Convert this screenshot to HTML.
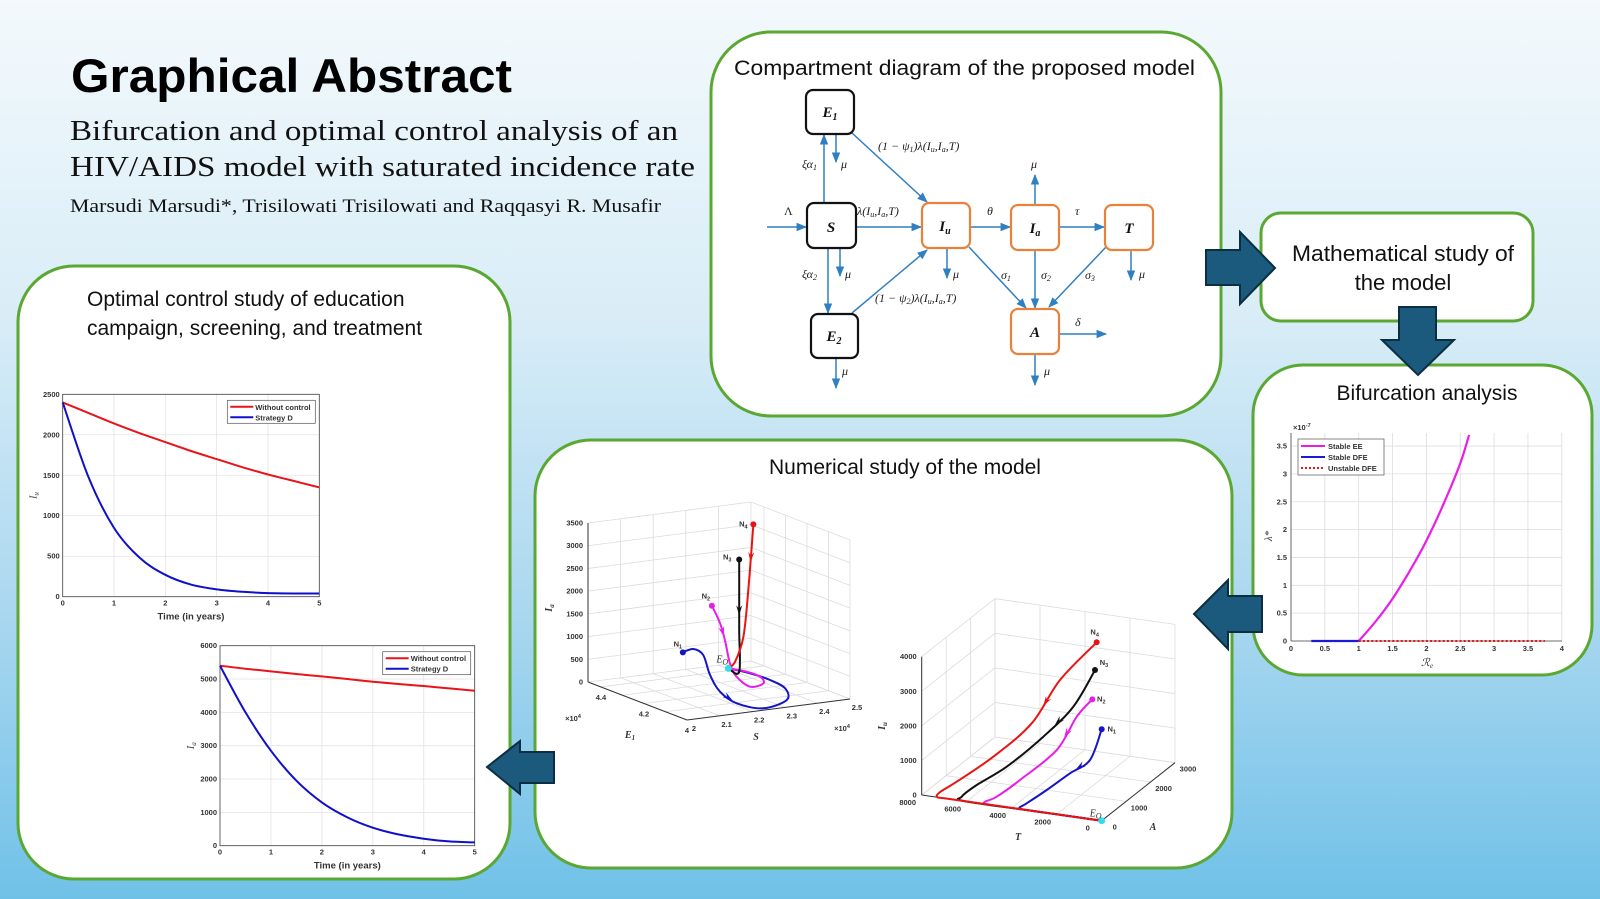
<!DOCTYPE html>
<html><head><meta charset="utf-8"><style>
html,body{margin:0;padding:0;width:1600px;height:899px;overflow:hidden}
svg{display:block}
.sans{font-family:"Liberation Sans",sans-serif}
.serif{font-family:"Liberation Serif",serif}
.tk{font-family:"Liberation Sans",sans-serif;font-size:7.5px;font-weight:bold;fill:#333}
.mt{font-family:"Liberation Serif",serif;font-style:italic;font-size:12px;fill:#222}
</style></head><body>
<svg id="root" width="1600" height="899" viewBox="0 0 1600 899" xmlns="http://www.w3.org/2000/svg">
<defs>
<linearGradient id="bg" x1="0" y1="0" x2="0" y2="1">
<stop offset="0" stop-color="#f3f9fc"/><stop offset="0.35" stop-color="#d9edf7"/><stop offset="0.7" stop-color="#a7d6ef"/><stop offset="1" stop-color="#70c1e8"/>
</linearGradient>
<marker id="ah" viewBox="0 0 10 10" refX="9" refY="5" markerWidth="7" markerHeight="7" orient="auto"><path d="M0,1 L10,5 L0,9 z" fill="#2f7fc1"/></marker>
</defs>
<rect x="0" y="0" width="1600" height="899" fill="url(#bg)"/>

<g>
<text x="71" y="92" class="sans" font-size="47" font-weight="bold" textLength="441" lengthAdjust="spacingAndGlyphs">Graphical Abstract</text>
<text x="70" y="140" class="serif" font-size="29" textLength="608" lengthAdjust="spacingAndGlyphs" fill="#111">Bifurcation and optimal control analysis of an</text>
<text x="70" y="176" class="serif" font-size="29" textLength="625" lengthAdjust="spacingAndGlyphs" fill="#111">HIV/AIDS model with saturated incidence rate</text>
<text x="70" y="212" class="serif" font-size="19" textLength="591" lengthAdjust="spacingAndGlyphs" fill="#111">Marsudi Marsudi*, Trisilowati Trisilowati and Raqqasyi R. Musafir</text>
</g>

<g fill="#fff" stroke="#5aa832" stroke-width="3">
<rect x="18" y="266" width="492" height="613" rx="56"/>
<rect x="711" y="32" width="510" height="384" rx="60"/>
<rect x="1261" y="213" width="272" height="108" rx="20"/>
<rect x="1253" y="365" width="339" height="310" rx="50"/>
<rect x="535" y="440" width="697" height="428" rx="56"/>
</g>

<g fill="#1b5a7c" stroke="#0c2e42" stroke-width="2">
<polygon points="1206,250 1240,250 1240,232 1275,268 1240,304 1240,285 1206,285"/>
<polygon points="1399,307 1436,307 1436,340 1454,340 1418,375 1382,340 1399,340"/>
<polygon points="1194,614 1228,580 1228,596 1262,596 1262,632 1228,632 1228,649"/>
<polygon points="487,767 520,741 520,752 554,752 554,783 520,783 520,794"/>
</g>

<g class="sans" fill="#111" font-size="21">
<text x="734" y="75" textLength="461" lengthAdjust="spacingAndGlyphs">Compartment diagram of the proposed model</text>
<text x="1403" y="261" text-anchor="middle" font-size="22" textLength="222" lengthAdjust="spacingAndGlyphs">Mathematical study of</text>
<text x="1403" y="290" text-anchor="middle" font-size="22">the model</text>
<text x="1427" y="400" text-anchor="middle">Bifurcation analysis</text>
<text x="905" y="474" text-anchor="middle">Numerical study of the model</text>
<text x="87" y="306">Optimal control study of education</text>
<text x="87" y="335">campaign, screening, and treatment</text>
</g>

<g>
<g stroke="#2f7fc1" stroke-width="1.5" fill="none" marker-end="url(#ah)">
<line x1="767" y1="227" x2="806" y2="227"/>
<line x1="856" y1="227" x2="921" y2="227"/>
<line x1="824" y1="203" x2="824" y2="135"/>
<line x1="836" y1="134" x2="836" y2="162"/>
<line x1="852" y1="133" x2="927" y2="202"/>
<line x1="828" y1="248" x2="828" y2="313"/>
<line x1="840" y1="248" x2="840" y2="276"/>
<line x1="852" y1="313" x2="927" y2="250"/>
<line x1="836" y1="358" x2="836" y2="388"/>
<line x1="947" y1="248" x2="947" y2="278"/>
<line x1="970" y1="227" x2="1010" y2="227"/>
<line x1="969" y1="247" x2="1026" y2="308"/>
<line x1="1035" y1="205" x2="1035" y2="175"/>
<line x1="1059" y1="227" x2="1104" y2="227"/>
<line x1="1035" y1="250" x2="1035" y2="308"/>
<line x1="1106" y1="247" x2="1049" y2="307"/>
<line x1="1131" y1="250" x2="1131" y2="280"/>
<line x1="1059" y1="334" x2="1106" y2="334"/>
<line x1="1035" y1="354" x2="1035" y2="385"/>
</g>
<g fill="#fff" stroke-width="2.2">
<rect x="806" y="90" width="48" height="44" rx="7" stroke="#111"/>
<rect x="807" y="203" width="49" height="45" rx="7" stroke="#111"/>
<rect x="811" y="314" width="47" height="44" rx="7" stroke="#111"/>
<rect x="922" y="203" width="48" height="45" rx="7" stroke="#e8823a"/>
<rect x="1011" y="205" width="48" height="45" rx="7" stroke="#e8823a"/>
<rect x="1105" y="205" width="48" height="45" rx="7" stroke="#e8823a"/>
<rect x="1011" y="309" width="48" height="45" rx="7" stroke="#e8823a"/>
</g>
<g class="serif" font-weight="bold" font-style="italic" font-size="15" fill="#111" text-anchor="middle">
<text x="830" y="117">E<tspan font-size="10" dy="3">1</tspan></text>
<text x="831" y="232">S</text>
<text x="834" y="341">E<tspan font-size="10" dy="3">2</tspan></text>
<text x="945" y="231">I<tspan font-size="10" dy="3">u</tspan></text>
<text x="1035" y="233">I<tspan font-size="10" dy="3">a</tspan></text>
<text x="1129" y="233">T</text>
<text x="1035" y="337">A</text>
</g>
<g class="mt">
<text x="784" y="215" font-style="normal">Λ</text>
<text x="857" y="215">λ(I<tspan font-size="8" dy="2">u</tspan><tspan dy="-2">,I</tspan><tspan font-size="8" dy="2">a</tspan><tspan dy="-2">,T)</tspan></text>
<text x="878" y="150">(1 − ψ<tspan font-size="8" dy="2">1</tspan><tspan dy="-2">)λ(I</tspan><tspan font-size="8" dy="2">u</tspan><tspan dy="-2">,I</tspan><tspan font-size="8" dy="2">a</tspan><tspan dy="-2">,T)</tspan></text>
<text x="875" y="302">(1 − ψ<tspan font-size="8" dy="2">2</tspan><tspan dy="-2">)λ(I</tspan><tspan font-size="8" dy="2">u</tspan><tspan dy="-2">,I</tspan><tspan font-size="8" dy="2">a</tspan><tspan dy="-2">,T)</tspan></text>
<text x="802" y="168">ξα<tspan font-size="8" dy="2">1</tspan></text>
<text x="802" y="278">ξα<tspan font-size="8" dy="2">2</tspan></text>
<text x="841" y="168">μ</text><text x="845" y="278">μ</text><text x="842" y="375">μ</text>
<text x="953" y="278">μ</text><text x="1031" y="168">μ</text><text x="1139" y="278">μ</text><text x="1044" y="375">μ</text>
<text x="987" y="215">θ</text><text x="1075" y="215">τ</text><text x="1075" y="326">δ</text>
<text x="1001" y="279">σ<tspan font-size="8" dy="2">1</tspan></text>
<text x="1041" y="279">σ<tspan font-size="8" dy="2">2</tspan></text>
<text x="1085" y="279">σ<tspan font-size="8" dy="2">3</tspan></text>
</g>
</g>

<g id="charts"></g>
</svg>

<script>
// ---------- data ----------
const years = [0,0.5,1,1.5,2,2.5,3,3.5,4,4.5,5];
const iuWithout = [2400,2270,2140,2020,1910,1800,1700,1600,1510,1430,1350];
const iuStrategyD = [2400,1480,850,480,270,150,90,60,45,40,40];
const iaWithout = [5400,5310,5230,5150,5080,5000,4920,4850,4790,4720,4650];
const iaStrategyD = [5400,4000,2850,1950,1300,850,540,340,210,130,100];
const iuTicks = [0,500,1000,1500,2000,2500];
const iaTicks = [0,1000,2000,3000,4000,5000,6000];
const yearTicks = [0,1,2,3,4,5];

const reValues = [1,1.25,1.5,1.75,2,2.25,2.5,2.63];
const lambdaStar = [0,0.35,0.76,1.25,1.8,2.45,3.19,3.7];
const dfeStable = [0.3,1];
const dfeUnstable = [1,3.75];
const reTicks = [0,0.5,1,1.5,2,2.5,3,3.5];
const lamTicks = [0,0.5,1,1.5,2,2.5,3,3.5];

const eqPoint1 = [2.404,4.42,0];
const trajN1 = [[2.205,4.330,700],[2.244,4.340,720],[2.263,4.323,600],[2.241,4.258,300],[2.218,4.177,100],[2.214,4.093,0],[2.245,4.017,0],[2.349,4.065,0],[2.415,4.173,0],[2.43,4.265,0],[2.424,4.35,0],[2.404,4.42,0]];
const trajN2 = [[2.279,4.307,1700],[2.301,4.302,1300],[2.321,4.31,900],[2.343,4.32,350],[2.346,4.294,100],[2.344,4.228,0],[2.395,4.243,0],[2.427,4.307,0],[2.426,4.368,0],[2.404,4.42,0]];
const trajN3 = [[2.409,4.377,2470],[2.409,4.377,1800],[2.409,4.377,900],[2.409,4.377,0],[2.404,4.42,0]];
const trajN4 = [[2.399,4.296,3400],[2.375,4.283,2000],[2.383,4.318,900],[2.378,4.349,300],[2.404,4.42,0]];
const sTicks = [2,2.1,2.2,2.3,2.4,2.5];
const e1Ticks = [4,4.2,4.4];
const iaTicks3d = [0,500,1000,1500,2000,2500,3000,3500];

const eqPoint2 = [0,0,0];
const trjN1 = [[1389,1279,1800],[1850,1224,900],[2464,971,600],[3122,624,250],[3570,219,50],[3700,40,0],[3300,0,0],[1600,0,0],[0,0,0]];
const trjN2 = [[1686,1168,2700],[2268,1066,2200],[2917,844,1300],[4190,514,500],[4962,272,80],[5300,60,0],[4800,0,0],[2400,0,0],[0,0,0]];
const trjN3 = [[1827,1408,3400],[2216,878,2600],[3236,590,1800],[4666,409,900],[5829,252,350],[6350,120,40],[6100,0,0],[3000,0,0],[0,0,0]];
const trjN4 = [[2592,2181,3700],[3330,1360,3000],[3977,798,2000],[5152,308,1200],[6494,44,500],[7200,0,150],[7300,0,0],[6800,0,0],[3500,0,0],[0,0,0]];
const tTicks = [0,2000,4000,6000,8000];
const aTicks = [0,1000,2000,3000];
const iuTicks3d = [0,1000,2000,3000,4000];

// ---------- helpers ----------
const NS = 'http://www.w3.org/2000/svg';
const root = document.getElementById('charts');
function mk(tag, attrs, parent) {
  const e = document.createElementNS(NS, tag);
  for (const k in attrs) e.setAttribute(k, attrs[k]);
  (parent || root).appendChild(e);
  return e;
}
function smooth(pts) {
  if (pts.length < 3) return 'M' + pts.map(p => p[0].toFixed(1) + ',' + p[1].toFixed(1)).join(' L');
  let d = 'M' + pts[0][0].toFixed(1) + ',' + pts[0][1].toFixed(1);
  for (let i = 0; i < pts.length - 1; i++) {
    const p0 = pts[Math.max(0, i - 1)], p1 = pts[i], p2 = pts[i + 1], p3 = pts[Math.min(pts.length - 1, i + 2)];
    const c1 = [p1[0] + (p2[0] - p0[0]) / 6, p1[1] + (p2[1] - p0[1]) / 6];
    const c2 = [p2[0] - (p3[0] - p1[0]) / 6, p2[1] - (p3[1] - p1[1]) / 6];
    d += ' C' + c1[0].toFixed(1) + ',' + c1[1].toFixed(1) + ' ' + c2[0].toFixed(1) + ',' + c2[1].toFixed(1) + ' ' + p2[0].toFixed(1) + ',' + p2[1].toFixed(1);
  }
  return d;
}
function txt(parent, x, y, s, cls, anchor) {
  const t = mk('text', {x: x, y: y, class: cls || 'tk', 'text-anchor': anchor || 'middle'}, parent);
  t.textContent = s;
  return t;
}
function arrowHead(parent, a, b, color) {
  const dx = b[0] - a[0], dy = b[1] - a[1], L = Math.hypot(dx, dy) || 1;
  const ux = dx / L, uy = dy / L, s = 5;
  const tip = [(a[0] + b[0]) / 2 + ux * s, (a[1] + b[1]) / 2 + uy * s];
  const p = mk('polygon', {points: [tip, [tip[0] - ux * 2 * s - uy * s * 0.6, tip[1] - uy * 2 * s + ux * s * 0.6], [tip[0] - ux * 1.3 * s, tip[1] - uy * 1.3 * s], [tip[0] - ux * 2 * s + uy * s * 0.6, tip[1] - uy * 2 * s - ux * s * 0.6]].map(q => q.join(',')).join(' '), fill: color}, parent);
  return p;
}

function lineChart(name, box, xs, s1, s2, yTicks, ymax, ylab) {
  const g = mk('g', {});
  
  
  const X = v => box.x0 + (v / 5) * (box.x1 - box.x0);
  const Y = v => box.y1 - (v / ymax) * (box.y1 - box.y0);
  mk('rect', {x: box.x0, y: box.y0, width: box.x1 - box.x0, height: box.y1 - box.y0, fill: '#fff'}, g);
  for (const t of yearTicks) {
    const l = mk('line', {x1: X(t), x2: X(t), y1: box.y0, y2: box.y1, stroke: '#e3e3e3', 'stroke-width': 0.8}, g);
    
    
    const tl = txt(g, X(t), box.y1 + 9, String(t));
    
    
  }
  for (const t of yTicks) {
    const l = mk('line', {x1: box.x0, x2: box.x1, y1: Y(t), y2: Y(t), stroke: '#e3e3e3', 'stroke-width': 0.8}, g);
    
    
    const tl = txt(g, box.x0 - 3, Y(t) + 2.5, String(t), 'tk', 'end');
    
    
  }
  mk('rect', {x: box.x0, y: box.y0, width: box.x1 - box.x0, height: box.y1 - box.y0, fill: 'none', stroke: '#444', 'stroke-width': 0.8}, g);
  const r = mk('path', {d: smooth(xs.map((v, i) => [X(v), Y(s1[i])])), fill: 'none', stroke: '#e8141a', 'stroke-width': 2}, g);
  
  
  const b = mk('path', {d: smooth(xs.map((v, i) => [X(v), Y(s2[i])])), fill: 'none', stroke: '#1010c8', 'stroke-width': 2}, g);
  
  
  const lg = mk('g', {}, g);
  
  
  const lw = 88, lx = box.x1 - lw - 4, ly = box.y0 + 6;
  mk('rect', {x: lx, y: ly, width: lw, height: 23, fill: '#fff', stroke: '#555', 'stroke-width': 0.7}, lg);
  mk('line', {x1: lx + 3, x2: lx + 26, y1: ly + 6.5, y2: ly + 6.5, stroke: '#e8141a', 'stroke-width': 2}, lg);
  mk('line', {x1: lx + 3, x2: lx + 26, y1: ly + 17, y2: ly + 17, stroke: '#1010c8', 'stroke-width': 2}, lg);
  txt(lg, lx + 28, ly + 9.5, 'Without control', 'tk', 'start');
  txt(lg, lx + 28, ly + 20, 'Strategy D', 'tk', 'start');
  const xl = txt(g, (box.x0 + box.x1) / 2, box.y1 + 23, 'Time (in years)', 'sans', 'middle');
  xl.setAttribute('font-size', '9.5');
  xl.setAttribute('font-weight', 'bold');
  xl.setAttribute('fill', '#333');
  
  
  const yl = mk('text', {x: 0, y: 0, class: 'serif', 'font-size': 10, 'font-style': 'italic', fill: '#333', transform: 'translate(' + (box.x0 - 26) + ',' + ((box.y0 + box.y1) / 2) + ') rotate(-90)', 'text-anchor': 'middle'}, g);
  yl.textContent = 'I';
  const sub = mk('tspan', {'font-size': 7, dy: 2}, yl);
  sub.textContent = ylab;
  
  
}
lineChart('iu-control-chart', {x0: 62.7, x1: 319.3, y0: 394.3, y1: 596.7}, years, iuWithout, iuStrategyD, iuTicks, 2500, 'u');
lineChart('ia-control-chart', {x0: 220, x1: 474.7, y0: 645.7, y1: 845.7}, years, iaWithout, iaStrategyD, iaTicks, 6000, 'a');

(function () {
  const g = mk('g', {});
  
  
  const x0 = 1291, y0 = 641, px = 67.7, py = 55.7, xr = 1562, yt = 433;
  const X = v => x0 + v * px, Y = v => y0 - v * py;
  for (const t of reTicks) {
    mk('line', {x1: X(t), x2: X(t), y1: yt, y2: y0, stroke: '#ddd', 'stroke-width': 0.8}, g);
    const tl = txt(g, X(t), y0 + 10, String(t));
    
    
  }
  mk('line', {x1: X(4), x2: X(4), y1: yt, y2: y0, stroke: '#ddd', 'stroke-width': 0.8}, g);
  txt(g, X(4), y0 + 10, '4');
  for (const t of lamTicks) {
    mk('line', {x1: x0, x2: xr, y1: Y(t), y2: Y(t), stroke: '#ddd', 'stroke-width': 0.8}, g);
    const tl = txt(g, x0 - 4, Y(t) + 2.5, String(t), 'tk', 'end');
    
    
  }
  mk('line', {x1: x0, x2: x0, y1: yt, y2: y0, stroke: '#444', 'stroke-width': 0.8}, g);
  mk('line', {x1: x0, x2: xr, y1: y0, y2: y0, stroke: '#444', 'stroke-width': 0.8}, g);
  const ee = mk('path', {d: smooth(reValues.map((v, i) => [X(v), Y(lambdaStar[i])])), fill: 'none', stroke: '#e81ee8', 'stroke-width': 2.2}, g);
  
  
  const sd = mk('line', {x1: X(dfeStable[0]), x2: X(dfeStable[1]), y1: Y(0), y2: Y(0), stroke: '#1a1ad8', 'stroke-width': 2.2}, g);
  
  
  const ud = mk('line', {x1: X(dfeUnstable[0]), x2: X(dfeUnstable[1]), y1: Y(0), y2: Y(0), stroke: '#e81414', 'stroke-width': 2, 'stroke-dasharray': '2,2.2'}, g);
  
  
  const lg = mk('g', {}, g);
  
  
  mk('rect', {x: 1298, y: 439, width: 86, height: 36, fill: '#fff', stroke: '#555', 'stroke-width': 0.7}, lg);
  mk('line', {x1: 1301, x2: 1325, y1: 446, y2: 446, stroke: '#e81ee8', 'stroke-width': 2}, lg);
  mk('line', {x1: 1301, x2: 1325, y1: 457, y2: 457, stroke: '#1a1ad8', 'stroke-width': 2}, lg);
  mk('line', {x1: 1301, x2: 1325, y1: 468, y2: 468, stroke: '#e81414', 'stroke-width': 2, 'stroke-dasharray': '2,2'}, lg);
  txt(lg, 1328, 449, 'Stable EE', 'tk', 'start');
  txt(lg, 1328, 460, 'Stable DFE', 'tk', 'start');
  txt(lg, 1328, 471, 'Unstable DFE', 'tk', 'start');
  const ex = txt(g, 1293, 430, '×10', 'tk', 'start');
  ex.setAttribute('font-weight', 'normal');
  const es = mk('tspan', {dy: -3, 'font-size': 5.5}, ex);
  es.textContent = '-7';
  const yl = mk('text', {x: 0, y: 0, class: 'serif', 'font-size': 11, 'font-style': 'italic', fill: '#333', transform: 'translate(1272,536) rotate(-90)', 'text-anchor': 'middle'}, g);
  yl.textContent = 'λ*';
  
  
  const xl = mk('text', {x: 1427, y: 666, class: 'serif', 'font-size': 11, 'font-style': 'italic', fill: '#333', 'text-anchor': 'middle'}, g);
  xl.textContent = 'ℛ';
  const xs = mk('tspan', {'font-size': 7, dy: 2}, xl);
  xs.textContent = 'e';
  
  
})();

function plot3d(cfg) {
  const g = mk('g', {});
  
  
  const P = cfg.proj, ax = cfg;
  const grid = (a, b) => mk('line', {x1: a[0], y1: a[1], x2: b[0], y2: b[1], stroke: '#dcdcdc', 'stroke-width': 0.8}, g);
  for (const z of cfg.zTicks) {
    grid(P(ax.uMin, ax.vFar, z), P(ax.uFar, ax.vFar, z));
    grid(P(ax.uFar, ax.vFar, z), P(ax.uFar, ax.vNear, z));
  }
  for (const u of cfg.uGrid) {
    grid(P(u, ax.vNear, 0), P(u, ax.vFar, 0));
    grid(P(u, ax.vFar, 0), P(u, ax.vFar, ax.zMax));
  }
  for (const v of cfg.vGrid) {
    grid(P(ax.uMin, v, 0), P(ax.uFar, v, 0));
    grid(P(ax.uFar, v, 0), P(ax.uFar, v, ax.zMax));
  }
  const axl = (a, b) => mk('line', {x1: a[0], y1: a[1], x2: b[0], y2: b[1], stroke: '#333', 'stroke-width': 1}, g);
  axl(P(ax.uMin, ax.vFar, 0), P(ax.uMin, ax.vFar, ax.zMax));
  axl(P(ax.uMin, ax.vFar, 0), P(ax.uMin, ax.vNear, 0));
  axl(P(ax.uMin, ax.vNear, 0), P(ax.uFar, ax.vNear, 0));
  for (const z of cfg.zTicks) {
    const q = P(ax.uMin, ax.vFar, z);
    const t = txt(g, q[0] - 5, q[1] + 2.5, String(z), 'tk', 'end');
    
    
  }
  for (const u of cfg.uTicks) {
    const q = P(u, ax.vNear, 0);
    const t = txt(g, q[0] + cfg.uOff[0], q[1] + cfg.uOff[1], String(u));
    
    
  }
  for (const v of cfg.vTicks) {
    const q = P(ax.uMin, v, 0);
    const t = txt(g, q[0] + cfg.vOff[0], q[1] + cfg.vOff[1], String(v));
    
    
  }
  for (const tr of cfg.trajs) {
    const pts = tr.data.map(p => P(p[0], p[1], p[2]));
    const path = mk('path', {d: smooth(pts), fill: 'none', stroke: tr.color, 'stroke-width': 2}, g);
    
    
    const ai = tr.arrowAt;
    arrowHead(g, pts[ai], pts[ai + 1], tr.color);
    const dot = mk('circle', {cx: pts[0][0], cy: pts[0][1], r: 3, fill: tr.color}, g);
    
    
    const lt = txt(g, pts[0][0] + tr.lab[0], pts[0][1] + tr.lab[1], 'N', 'tk', 'middle');
    lt.setAttribute('fill', tr.color);
    lt.setAttribute('font-size', '8');
    const ls = mk('tspan', {'font-size': 5.5, dy: 2}, lt);
    ls.textContent = tr.label.slice(1);
    
    
  }
  const e = P(cfg.eq[0], cfg.eq[1], cfg.eq[2]);
  const ec = mk('circle', {cx: e[0], cy: e[1], r: 3.5, fill: '#33dde8'}, g);
  
  
  const el = mk('text', {x: e[0] + cfg.eqLab[0], y: e[1] + cfg.eqLab[1], class: 'serif', 'font-size': 10, 'font-style': 'italic', fill: '#333'}, g);
  el.textContent = 'E';
  const es = mk('tspan', {'font-size': 8, dy: 2}, el);
  es.textContent = 'O';
  
  
  return g;
}

const proj1 = (S, E, Z) => [687 + (S - 2) / 0.5 * 163 - (E - 4) / 0.46 * 99, 720 - (S - 2) / 0.5 * 21 - (E - 4) / 0.46 * 38 - Z / 3500 * 159];
plot3d({
  name: 'phase-plot-s-e1-ia', proj: proj1, uMin: 2, uFar: 2.5, vNear: 4, vFar: 4.46, zMax: 3500,
  zTicks: iaTicks3d, uGrid: sTicks, vGrid: [4, 4.1, 4.2, 4.3, 4.4], uTicks: sTicks, vTicks: e1Ticks,
  uOff: [7, 11], vOff: [0, 13],
  eq: eqPoint1, eqLab: [-12, -6],
  trajs: [
    {data: trajN1, color: '#1414c8', label: 'N1', arrowAt: 4, lab: [-5, -6]},
    {data: trajN2, color: '#e81ee8', label: 'N2', arrowAt: 1, lab: [-6, -7]},
    {data: trajN3, color: '#111', label: 'N3', arrowAt: 1, lab: [-12, 0]},
    {data: trajN4, color: '#e81414', label: 'N4', arrowAt: 0, lab: [-10, 2]}
  ]
});
const proj2 = (T, A, Z) => [1101.7 - T / 8000 * 180 + A / 3000 * 73.3, 820.7 - T / 8000 * 25.7 - A / 3000 * 58 - Z / 4000 * 138.3];
plot3d({
  name: 'phase-plot-t-a-iu', proj: (a, t, z) => proj2(t, a, z), uMin: 0, uFar: 3000, vNear: 0, vFar: 8000, zMax: 4000,
  zTicks: iuTicks3d, uGrid: aTicks, vGrid: tTicks, uTicks: aTicks, vTicks: tTicks,
  uOff: [13, 9], vOff: [-14, 10],
  eq: [eqPoint2[1], eqPoint2[0], eqPoint2[2]], eqLab: [-12, -4],
  trajs: [
    {data: trjN1.map(p => [p[1], p[0], p[2]]), color: '#1414c8', label: 'N1', arrowAt: 1, lab: [10, 2]},
    {data: trjN2.map(p => [p[1], p[0], p[2]]), color: '#e81ee8', label: 'N2', arrowAt: 1, lab: [9, 2]},
    {data: trjN3.map(p => [p[1], p[0], p[2]]), color: '#111', label: 'N3', arrowAt: 1, lab: [9, -5]},
    {data: trjN4.map(p => [p[1], p[0], p[2]]), color: '#e81414', label: 'N4', arrowAt: 1, lab: [-2, -8]}
  ]
});

function axTitle(x, y, main, sub, rot, name) {
  const t = mk('text', {x: 0, y: 0, class: 'serif', 'font-size': 10, 'font-style': 'italic', 'font-weight': 'bold', fill: '#333', 'text-anchor': 'middle', transform: 'translate(' + x + ',' + y + ')' + (rot ? ' rotate(-90)' : '')});
  t.textContent = main;
  if (sub) {
    const s = mk('tspan', {'font-size': 7, dy: 2}, t);
    s.textContent = sub;
  }
  
  
}
axTitle(552, 608, 'I', 'a', true, 'ia-axis-title');
axTitle(630, 738, 'E', '1', false, 'e1-axis-title');
axTitle(756, 740, 'S', '', false, 's-axis-title');
axTitle(885, 726, 'I', 'u', true, 'iu-axis-title');
axTitle(1018, 840, 'T', '', false, 't-axis-title');
axTitle(1153, 830, 'A', '', false, 'a-axis-title');
const m1 = txt(root, 573, 721, '×10', 'tk', 'middle');
m1.setAttribute('font-weight', 'normal');
const m1s = mk('tspan', {'font-size': 5.5, dy: -3}, m1);
m1s.textContent = '4';
const m2 = txt(root, 842, 731, '×10', 'tk', 'middle');
m2.setAttribute('font-weight', 'normal');
const m2s = mk('tspan', {'font-size': 5.5, dy: -3}, m2);
m2s.textContent = '4';
</script>
</body></html>
